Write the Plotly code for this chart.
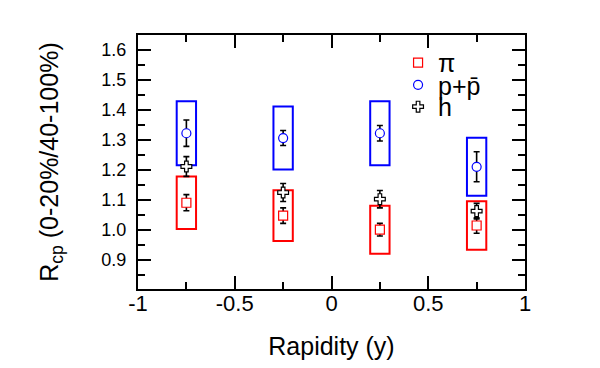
import plotly.graph_objects as go

# ---- data ----
rapidity = [-0.75, -0.25, 0.25, 0.75]

pi_val = [1.090, 1.047, 1.000, 1.014]
pi_stat = [0.027, 0.026, 0.021, 0.026]
pi_sys = [0.088, 0.085, 0.080, 0.081]

p_val = [1.322, 1.306, 1.322, 1.210]
p_stat = [0.044, 0.025, 0.026, 0.050]
p_sys = [0.107, 0.105, 0.107, 0.097]

h_val = [1.211, 1.124, 1.102, 1.062]
h_stat = [0.033, 0.030, 0.029, 0.026]

x_tickvals = [-1, -0.5, 0, 0.5, 1]
x_ticktext = ["-1", "-0.5", "0", "0.5", "1"]
y_tickvals = [0.9, 1.0, 1.1, 1.2, 1.3, 1.4, 1.5, 1.6]
y_ticktext = ["0.9", "1.0", "1.1", "1.2", "1.3", "1.4", "1.5", "1.6"]

legend_names = ["π", "p+p\u0304", "h"]

# ---- style ----
FONT = "Liberation Sans, Arial, Helvetica, sans-serif"
RED = "#ff0000"
BLUE = "#0000ff"
BOX_HALF = 0.05
# the page body adds an 8px offset; compensate in the figure size/margins
OFF = 8

fig = go.Figure()

err_style = dict(type="data", visible=True, color="black", thickness=1.6, width=3)

fig.add_trace(go.Scatter(
    x=rapidity, y=pi_val, mode="markers", name=legend_names[0], legend="legend",
    error_y=dict(array=pi_stat, **err_style),
    marker=dict(symbol="square", size=9, color="white", line=dict(color=RED, width=1.2)),
))
fig.add_trace(go.Scatter(
    x=rapidity, y=p_val, mode="markers", name=legend_names[1], legend="legend2",
    error_y=dict(array=p_stat, **err_style),
    marker=dict(symbol="circle", size=9, color="white", line=dict(color=BLUE, width=1.2)),
))
fig.add_trace(go.Scatter(
    x=rapidity, y=h_val, mode="markers", name=legend_names[2], legend="legend3",
    error_y=dict(array=h_stat, **err_style),
    marker=dict(symbol="cross", size=9, color="white", line=dict(color="black", width=1.2)),
))

# systematic boxes
for xs, vals, sys, col in [(rapidity, pi_val, pi_sys, RED), (rapidity, p_val, p_sys, BLUE)]:
    for xv, v, s in zip(xs, vals, sys):
        fig.add_shape(type="rect", xref="x", yref="y",
                      x0=xv - BOX_HALF, x1=xv + BOX_HALF, y0=v - s, y1=v + s,
                      line=dict(color=col, width=2), fillcolor="rgba(0,0,0,0)",
                      layer="below")

leg_common = dict(x=0.672, xanchor="left", yanchor="middle",
                  font=dict(size=25, family=FONT, color="black"),
                  bgcolor="rgba(0,0,0,0)", borderwidth=0, itemwidth=30)

fig.update_layout(
    width=600 - OFF, height=368 - OFF,
    margin=dict(l=138 - OFF, r=75, t=35 - OFF, b=79),
    paper_bgcolor="white", plot_bgcolor="white",
    font=dict(family=FONT, color="black"),
    showlegend=True,
    legend=dict(y=0.890, **leg_common),
    legend2=dict(y=0.803, **leg_common),
    legend3=dict(y=0.717, **leg_common),
    xaxis=dict(
        range=[-1, 1], tickmode="array", tickvals=x_tickvals, ticktext=x_ticktext,
        ticks="inside", ticklen=13, tickwidth=1.5, tickcolor="black",
        minor=dict(tickmode="array", tickvals=[-0.75, -0.25, 0.25, 0.75],
                   ticks="inside", ticklen=7, tickwidth=1.5, tickcolor="black"),
        showline=True, linecolor="black", linewidth=2, mirror="ticks",
        showgrid=False, zeroline=False, automargin=False,
        tickfont=dict(size=22, family=FONT, color="black"),
        ticklabelstandoff=-6,
        title=dict(text="Rapidity (y)", font=dict(size=25, family=FONT, color="black"), standoff=22),
    ),
    yaxis=dict(
        range=[0.802, 1.65], tickmode="array", tickvals=y_tickvals, ticktext=y_ticktext,
        ticks="inside", ticklen=13, tickwidth=1.5, tickcolor="black",
        minor=dict(tickmode="array",
                   tickvals=[0.85, 0.95, 1.05, 1.15, 1.25, 1.35, 1.45, 1.55, 1.65],
                   ticks="inside", ticklen=7, tickwidth=1.5, tickcolor="black"),
        showline=True, linecolor="black", linewidth=2, mirror="ticks",
        showgrid=False, zeroline=False, automargin=False,
        tickfont=dict(size=18, family=FONT, color="black"),
        ticklabelstandoff=6,
        title=dict(text="R<sub>cp</sub> (0-20%/40-100%)",
                   font=dict(size=25, family=FONT, color="black"), standoff=36),
    ),
)

fig.write_html("out.html")
